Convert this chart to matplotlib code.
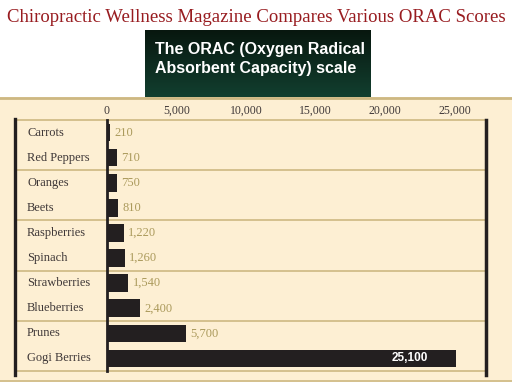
import numpy as np
import matplotlib
matplotlib.use("Agg")
import matplotlib.pyplot as plt
from matplotlib.patches import Rectangle

# data
foods = ["Carrots", "Red Peppers", "Oranges", "Beets", "Raspberries",
         "Spinach", "Strawberries", "Blueberries", "Prunes", "Gogi Berries"]
orac = [210, 710, 750, 810, 1220, 1260, 1540, 2400, 5700, 25100]
tick_vals = [0, 5000, 10000, 15000, 20000, 25000]
title = "Chiropractic Wellness Magazine Compares Various ORAC Scores"
box_text = "The ORAC (Oxygen Radical\nAbsorbent Capacity) scale"

W, H = 512, 384
cream = "#fdefd3"
tan = "#cdb882"
bar_col = "#231f20"
txt_col = "#3f3838"
val_col = "#ab9a5c"

fig = plt.figure(figsize=(W / 100, H / 100), dpi=100)
fig.patch.set_facecolor("white")

def fx(px):
    return px / W

def fy(py):
    return 1 - py / H

# cream panel with tan borders
fig.add_artist(Rectangle((0, fy(382)), 1, fy(97) - fy(382), transform=fig.transFigure,
                         facecolor=cream, edgecolor="none", zorder=-10))
fig.add_artist(plt.Line2D([0, 1], [fy(97.5)] * 2, transform=fig.transFigure, color=tan,
                          lw=2.0, zorder=-5))
fig.add_artist(plt.Line2D([0, 1], [fy(381)] * 2, transform=fig.transFigure, color=tan,
                          lw=1.2, zorder=-5))

fig.text(0.5, fy(18), title, ha="center", va="center", color="#981c20",
         fontsize=13.5, family="Liberation Serif")

# green title box with gradient
bax = fig.add_axes([fx(145), fy(97), fx(226), fy(30) - fy(97)])
grad = np.linspace(0, 1, 100).reshape(-1, 1)
cmap = matplotlib.colors.LinearSegmentedColormap.from_list("g", ["#08170f", "#123f2f"])
bax.imshow(grad, aspect="auto", cmap=cmap, extent=[0, 1, 0, 1], origin="upper")
bax.set_axis_off()
bax.text(fx(10) / fx(226), 0.57, box_text, transform=bax.transAxes, ha="left", va="center",
         color="white", fontsize=11.5, fontweight="bold", family="Liberation Sans",
         linespacing=1.3)

# main chart
x0, x1, y0, y1 = 107, 486, 120, 371
ax = fig.add_axes([fx(x0), fy(y1), fx(x1 - x0), fy(y0) - fy(y1)])
ax.set_facecolor("none")
y = np.arange(len(foods))
ax.barh(y, orac, height=0.7, color=bar_col, zorder=3)
ax.set_xlim(0, 27260)
ax.set_ylim(len(foods) - 0.5, -0.5)

ax.set_xticks(tick_vals)
ax.set_xticklabels([f"{v:,}" for v in tick_vals], family="Liberation Serif",
                   fontsize=8.5, color=txt_col)
ax.xaxis.tick_top()
ax.tick_params(axis="x", length=0, pad=2)
ax.set_yticks([])

for s in ["top", "bottom"]:
    ax.spines[s].set_visible(False)
ax.spines["left"].set_linewidth(2.0)
ax.spines["left"].set_color(bar_col)
ax.spines["right"].set_linewidth(2.5)
ax.spines["right"].set_color(bar_col)
ax.spines["right"].set_bounds(len(foods) - 0.35, -0.5)

left = (15 - x0) / (x1 - x0)
ytr = ax.get_yaxis_transform()
for yy in [-0.5, 1.5, 3.5, 5.5, 7.5, 9.5]:
    ax.plot([left, 1], [yy, yy], transform=ytr, color=tan, lw=1.2, clip_on=False, zorder=1)
ax.plot([left, left], [9.65, -0.55], transform=ytr, color=bar_col, lw=2.4,
        clip_on=False, zorder=2)

lab_x = (27 - x0) / (x1 - x0)
for i, name in enumerate(foods):
    ax.text(lab_x, i, name, transform=ytr, ha="left", va="center", fontsize=9,
            family="Liberation Serif", color=txt_col)

for i, v in enumerate(orac):
    if v == max(orac):
        ax.annotate(f"{v:,}", (v, i), xytext=(-20, 0), textcoords="offset points",
                    ha="right", va="center", color="white", fontsize=8.5,
                    fontweight="bold", family="Liberation Sans", zorder=4)
    else:
        ax.annotate(f"{v:,}", (v, i), xytext=(3, 0), textcoords="offset points",
                    ha="left", va="center", color=val_col, fontsize=9,
                    family="Liberation Serif", zorder=4)

fig.savefig("out.png", dpi=100)
